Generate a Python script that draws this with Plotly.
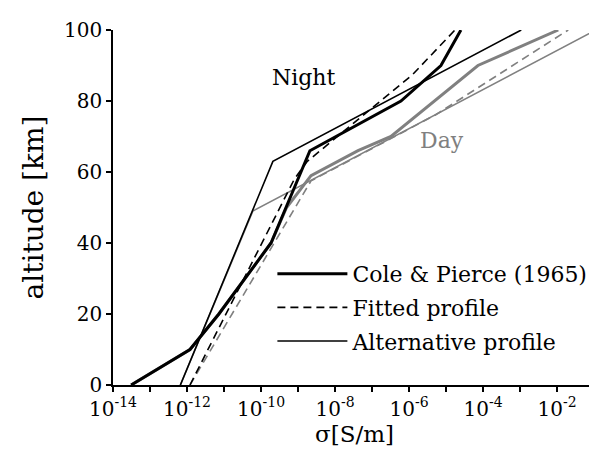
import plotly.graph_objects as go

# log10(sigma [S/m]) and altitude [km]
night_cole_logsig = [-13.51, -11.92, -11.14, -9.73, -8.68, -6.22, -5.14, -4.6]
night_cole_alt = [0, 10, 20, 40, 66, 80, 90, 100]

day_cole_logsig = [-13.51, -11.92, -11.14, -9.73, -9.31, -8.65, -7.38, -6.49, -4.14, -1.97]
day_cole_alt = [0, 10, 20, 40, 50, 59, 66, 70, 90, 100]

night_fit_logsig = [-11.92, -9.1, -8.75, -8.4, -7.57, -6.65, -5.9, -4.76]
night_fit_alt = [0, 58, 63, 66, 73, 81, 87.5, 100]

day_fit_logsig = [-11.92, -8.65, -5.3, -1.7]
day_fit_alt = [0, 57.5, 76, 100]

night_alt_logsig = [-12.18, -9.68, -2.97]
night_alt_alt = [0, 63, 100]

day_alt_logsig = [-12.18, -10.22, -0.95]
day_alt_alt = [0, 49, 100]

tick_exps = list(range(-14, 0))
tick_labels = [f"10<sup>{e}</sup>" if e % 2 == 0 else "" for e in tick_exps]
y_ticks = [0, 20, 40, 60, 80, 100]

BLACK = "#000000"
GRAY = "#808080"
FONT = "'DejaVu Serif', serif"

def lin(v):
    return [10 ** x for x in v]

fig = go.Figure()
# day (gray) first so night sits on top
fig.add_trace(go.Scatter(x=lin(day_alt_logsig), y=day_alt_alt, mode="lines",
                         line=dict(color=GRAY, width=1.6), showlegend=False))
fig.add_trace(go.Scatter(x=lin(day_fit_logsig), y=day_fit_alt, mode="lines",
                         line=dict(color=GRAY, width=1.6, dash="8px,5px"), showlegend=False))
fig.add_trace(go.Scatter(x=lin(day_cole_logsig), y=day_cole_alt, mode="lines",
                         line=dict(color=GRAY, width=3), showlegend=False))
fig.add_trace(go.Scatter(x=lin(night_cole_logsig), y=night_cole_alt, mode="lines",
                         name="Cole & Pierce (1965)", legendgroup="a",
                         line=dict(color=BLACK, width=3)))
fig.add_trace(go.Scatter(x=lin(night_fit_logsig), y=night_fit_alt, mode="lines",
                         name="Fitted profile", legendgroup="b",
                         line=dict(color=BLACK, width=1.6, dash="8px,5px")))
fig.add_trace(go.Scatter(x=lin(night_alt_logsig), y=night_alt_alt, mode="lines",
                         name="Alternative profile", legendgroup="c",
                         line=dict(color=BLACK, width=1.6)))

fig.add_annotation(x=-8.85, y=86.5, text="Night", showarrow=False,
                   font=dict(family=FONT, size=22, color=BLACK))
fig.add_annotation(x=-5.12, y=69, text="Day", showarrow=False,
                   font=dict(family=FONT, size=22, color=GRAY))

fig.update_xaxes(type="log", range=[-14, -0.95],
                 tickvals=lin(tick_exps), ticktext=tick_labels, tickangle=0,
                 showline=True, linecolor=BLACK, linewidth=1.5,
                 ticks="outside", ticklen=5, tickwidth=1.5, tickcolor=BLACK,
                 showgrid=False, zeroline=False,
                 tickfont=dict(family=FONT, size=20, color=BLACK),
                 title=dict(text="σ[S/m]", font=dict(family=FONT, size=23, color=BLACK), standoff=4))
fig.update_yaxes(range=[0, 100], tickvals=y_ticks,
                 showline=True, linecolor=BLACK, linewidth=1.5,
                 ticks="outside", ticklen=5, tickwidth=1.5, tickcolor=BLACK,
                 showgrid=False, zeroline=False,
                 tickfont=dict(family=FONT, size=20, color=BLACK),
                 title=dict(text="altitude [km]", font=dict(family=FONT, size=28, color=BLACK), standoff=12))

fig.update_layout(
    width=597, height=457,
    margin=dict(l=105, r=9, t=22, b=80),
    plot_bgcolor="white", paper_bgcolor="white",
    font=dict(family=FONT, color=BLACK),
    legend=dict(x=0.33, y=0.372, xanchor="left", yanchor="top",
                bgcolor="rgba(0,0,0,0)", itemwidth=70,
                font=dict(family=FONT, size=22, color=BLACK),
                tracegroupgap=2),
)

fig.write_html("out.html")
